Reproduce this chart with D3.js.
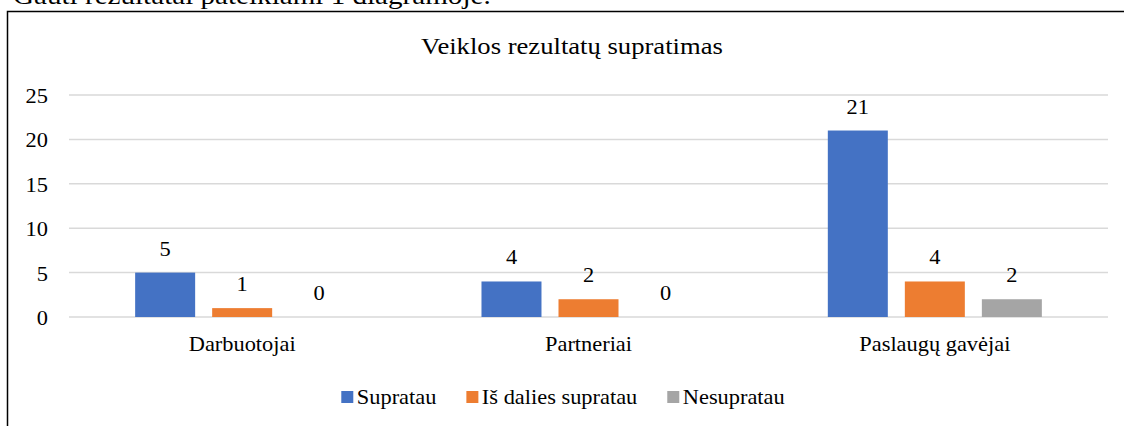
<!DOCTYPE html>
<html>
<head>
<meta charset="utf-8">
<script src="https://cdn.jsdelivr.net/npm/d3@7"></script>
<style>
  body { margin: 0; background: #fff; }
</style>
</head>
<body>
<div id="chart"></div>
<script>
    // data
    var categories = ["Darbuotojai", "Partneriai", "Paslaugų gavėjai"];
    var seriesNames = ["Supratau", "Iš dalies supratau", "Nesupratau"];
    var supratau = [5, 4, 21];
    var isDalies = [1, 2, 4];
    var nesupratau = [0, 0, 2];
    var yTicks = [0, 5, 10, 15, 20, 25];
    var colors = ["#4472C4", "#ED7D31", "#A5A5A5"];

    var width = 1124;
    var height = 426;
    var sx = 1.12; // source image is stretched a bit sideways
    var serif = "'Liberation Serif', 'DejaVu Serif', 'Times New Roman', serif";

    var svg = d3.select('#chart')
        .append("svg")
        .attr("width", width)
        .attr("height", height)
        .attr("font-family", serif)
        .style("font-family", serif);

    function put(sel, x, y) {
        return sel.attr("transform", "translate(" + x + "," + y + ") scale(" + sx + ",1)");
    }

    // text of the page above the chart, cut off at the top
    put(svg.append("text"), 13, 4)
        .style("font-size", "26px")
        .text("Gauti rezultatai pateikiami 1 diagramoje.");

    // chart frame (left and top edges visible)
    svg.append("path")
        .attr("d", "M7.5," + height + "V11.5H" + width)
        .attr("fill", "none")
        .attr("stroke", "#000")
        .attr("stroke-width", 1.5);

    put(svg.append("text"), 572, 54)
        .attr("text-anchor", "middle")
        .style("font-size", "23.8px")
        .text("Veiklos rezultatų supratimas");

    var x0 = d3.scaleBand()
        .domain(categories)
        .range([69, 1108])
        .paddingInner(0.382)
        .paddingOuter(0.191);

    var x1 = d3.scaleBand()
        .domain(seriesNames)
        .range([0, x0.bandwidth()])
        .paddingInner(0.221)
        .paddingOuter(0);

    var y = d3.scaleLinear()
        .domain([0, 25])
        .range([317, 95]);

    // gridlines
    svg.append("g").selectAll("line")
        .data(yTicks)
        .enter()
        .append("line")
        .attr("x1", 69)
        .attr("x2", 1108)
        .attr("y1", function (d) { return y(d); })
        .attr("y2", function (d) { return y(d); })
        .attr("stroke", "#D9D9D9")
        .attr("stroke-width", 1.5);

    // y tick labels
    svg.append("g").selectAll("text")
        .data(yTicks)
        .enter()
        .append("text")
        .attr("text-anchor", "end")
        .style("font-size", "20px")
        .attr("transform", function (d) {
            return "translate(48," + (y(d) + 8) + ") scale(" + sx + ",1)";
        })
        .text(function (d) { return d; });

    var series = [supratau, isDalies, nesupratau];
    var rows = [];
    series.forEach(function (vals, si) {
        vals.forEach(function (v, ci) {
            rows.push({ cat: categories[ci], name: seriesNames[si], value: v, color: colors[si] });
        });
    });

    svg.append("g").selectAll("rect")
        .data(rows.filter(function (d) { return d.value > 0; }))
        .enter()
        .append("rect")
        .attr("x", function (d) { return x0(d.cat) + x1(d.name); })
        .attr("y", function (d) { return y(d.value); })
        .attr("width", x1.bandwidth())
        .attr("height", function (d) { return y(0) - y(d.value); })
        .attr("fill", function (d) { return d.color; });

    // data labels
    svg.append("g").selectAll("text")
        .data(rows)
        .enter()
        .append("text")
        .attr("text-anchor", "middle")
        .style("font-size", "20px")
        .attr("transform", function (d) {
            var cx = x0(d.cat) + x1(d.name) + x1.bandwidth() / 2;
            return "translate(" + cx + "," + (y(d.value) - 17) + ") scale(" + sx + ",1)";
        })
        .text(function (d) { return d.value; });

    // category labels
    svg.append("g").selectAll("text")
        .data(categories)
        .enter()
        .append("text")
        .attr("text-anchor", "middle")
        .style("font-size", "20px")
        .attr("transform", function (d) {
            return "translate(" + (x0(d) + x0.bandwidth() / 2) + ",351) scale(" + sx + ",1)";
        })
        .text(function (d) { return d; });

    // legend, centred at 563
    var legend = svg.append("g");
    var items = legend.selectAll("g")
        .data(seriesNames)
        .enter()
        .append("g");
    items.append("rect")
        .attr("width", 12)
        .attr("height", 12)
        .attr("y", 391)
        .attr("fill", function (d, i) { return colors[i]; });
    items.append("text")
        .style("font-size", "20px")
        .attr("transform", "translate(15.5,404) scale(" + sx + ",1)")
        .text(function (d) { return d; });

    var cur = 0;
    var gap = 30;
    items.each(function () {
        var g = d3.select(this);
        g.attr("transform", "translate(" + cur + ",0)");
        var w = 15.5 + g.select("text").node().getComputedTextLength() * sx;
        cur += w + gap;
    });
    var total = cur - gap;
    legend.attr("transform", "translate(" + (563 - total / 2) + ",0)");
</script>
</body>
</html>
